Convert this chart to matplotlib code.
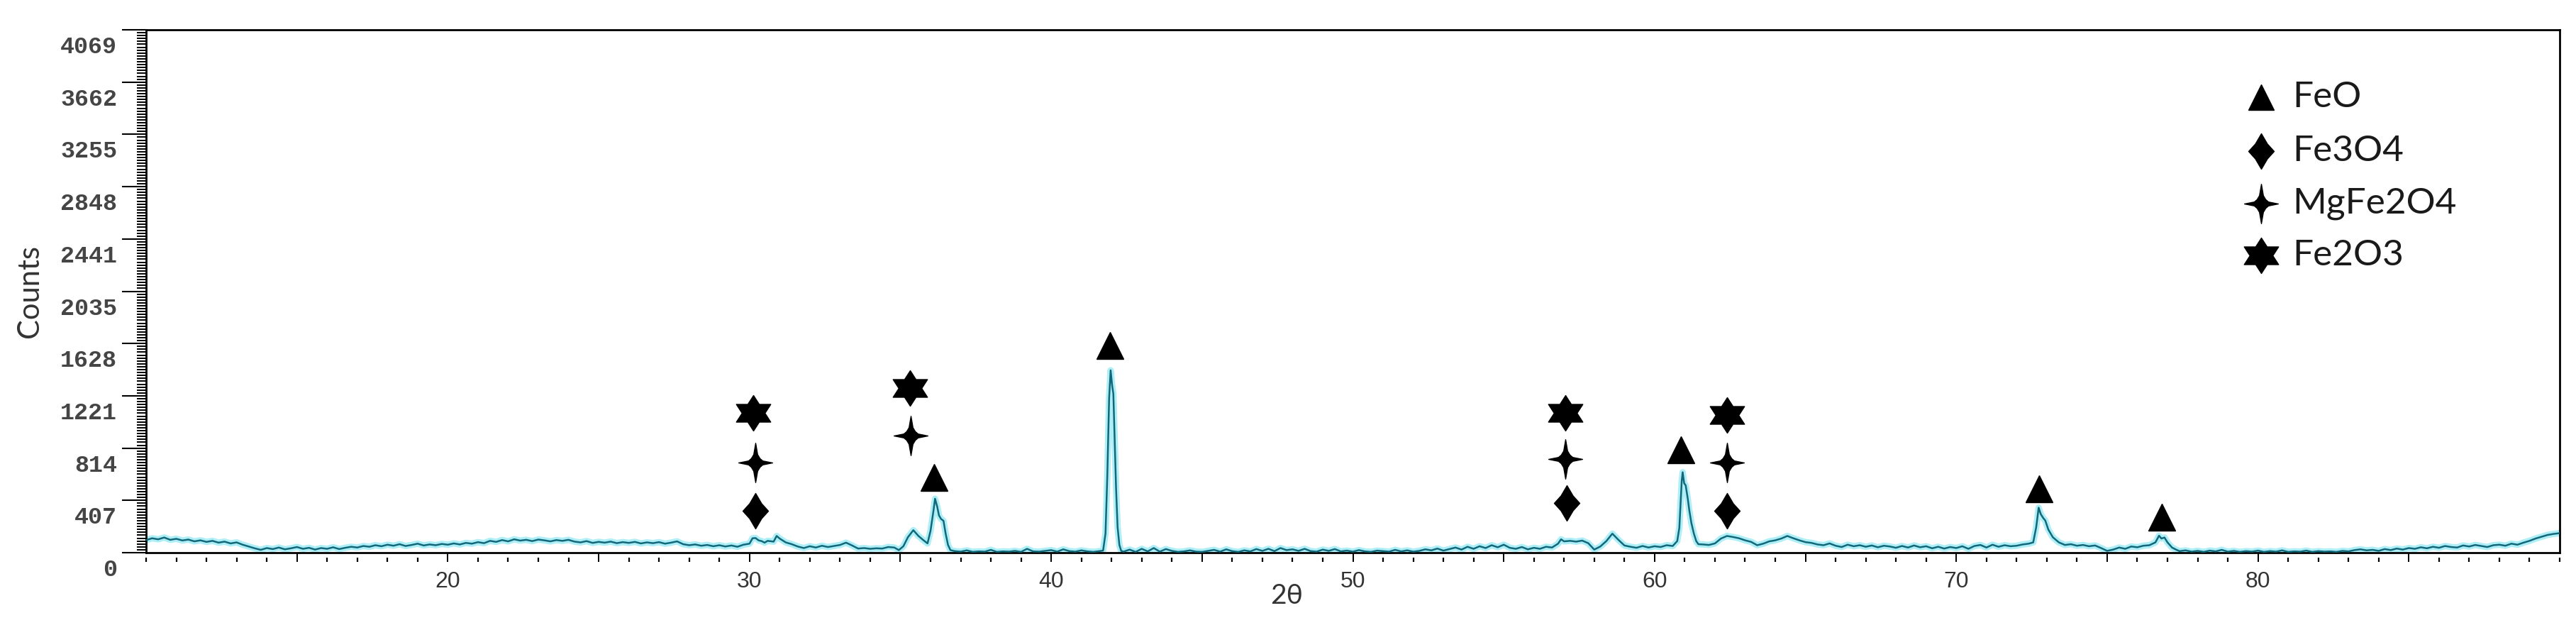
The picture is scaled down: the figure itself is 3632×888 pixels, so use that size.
import matplotlib
matplotlib.use("Agg")
import matplotlib.pyplot as plt
import numpy as np
from matplotlib.path import Path
from matplotlib.lines import Line2D
from matplotlib.markers import MarkerStyle
from matplotlib.ticker import FixedLocator, MultipleLocator
from matplotlib.transforms import ScaledTranslation

# ---------------- data ----------------
two_theta = [
    10.0, 10.2, 10.4, 10.6, 10.8, 11.0, 11.2, 11.4, 11.6, 11.8, 12.0, 12.2, 12.4, 12.6, 12.8, 13.0, 13.2, 13.4,
    13.6, 13.8, 14.0, 14.2, 14.4, 14.6, 14.8, 15.0, 15.2, 15.4, 15.6, 15.8, 16.0, 16.2, 16.4, 16.6, 16.8,
    17.0, 17.2, 17.4, 17.6, 17.8, 18.0, 18.2, 18.4, 18.6, 18.8, 19.0, 19.2, 19.4, 19.6, 19.8, 20.0, 20.2, 20.4,
    20.6, 20.8, 21.0, 21.2,
    21.4, 21.6, 21.8, 22.0, 22.2, 22.4, 22.6, 22.8, 23.0, 23.2, 23.4, 23.6, 23.8, 24.0, 24.2,
    24.4, 24.6, 24.8, 25.0, 25.2, 25.4, 25.6, 25.8, 26.0, 26.2, 26.4, 26.6, 26.8, 27.0, 27.2, 27.4, 27.6,
    27.8, 28.0, 28.2, 28.4, 28.6, 28.8, 29.0, 29.2, 29.4, 29.6, 29.8,
    30.0, 30.1, 30.2, 30.3, 30.4, 30.5, 30.6, 30.8, 30.9, 31.0, 31.2, 31.4,
    31.6, 31.8, 32.0, 32.2, 32.4, 32.6, 32.8, 33.0, 33.2, 33.4, 33.6, 33.8, 34.0, 34.2, 34.4, 34.6, 34.8, 34.95,
    35.1, 35.25, 35.43, 35.6, 35.75, 35.9, 36.0, 36.1, 36.15, 36.22, 36.28, 36.35, 36.43, 36.5, 36.58, 36.66,
    36.8, 37.0, 37.2, 37.4, 37.6, 37.8, 38.0, 38.2, 38.4, 38.6, 38.8, 39.0, 39.2, 39.4, 39.6, 39.8, 40.0, 40.2,
    40.4, 40.6, 40.8, 41.0, 41.2, 41.4, 41.6,
    41.72, 41.8, 41.86, 41.92, 41.97, 42.02, 42.06, 42.1, 42.15, 42.2, 42.26, 42.32,
    42.4, 42.6, 42.8, 43.0, 43.2, 43.4, 43.6, 43.8, 44.0, 44.2, 44.4, 44.6, 44.8, 45.0, 45.2, 45.4, 45.6, 45.8,
    46.0, 46.2, 46.4, 46.6, 46.8, 47.0, 47.2, 47.4, 47.6, 47.8, 48.0, 48.2, 48.4, 48.6, 48.8, 49.0, 49.2, 49.4,
    49.6, 49.8, 50.0, 50.2, 50.4, 50.6, 50.8, 51.0, 51.2, 51.4, 51.6, 51.8, 52.0, 52.2, 52.4, 52.6, 52.8, 53.0,
    53.2, 53.4, 53.6, 53.8, 54.0, 54.2, 54.4, 54.6, 54.8, 55.0, 55.2, 55.4, 55.6, 55.8, 56.0, 56.2, 56.4, 56.6,
    56.8, 56.9, 57.0, 57.2, 57.4, 57.6, 57.8, 58.0, 58.2, 58.4, 58.6, 58.8, 59.0,
    59.2, 59.4, 59.6, 59.8, 60.0, 60.2, 60.4, 60.6, 60.75,
    60.82, 60.9, 60.93, 60.98, 61.03, 61.1, 61.15, 61.22, 61.3, 61.38, 61.45,
    61.6, 61.8, 62.0, 62.2, 62.4, 62.6, 62.8, 63.0, 63.2, 63.4, 63.6, 63.8, 64.0, 64.2, 64.4, 64.6, 64.8, 65.0, 65.2,
    65.4, 65.6, 65.8, 66.0, 66.2, 66.4, 66.6, 66.8, 67.0, 67.2, 67.4, 67.6, 67.8, 68.0, 68.2, 68.4, 68.6, 68.8,
    69.0, 69.2, 69.4, 69.6, 69.8, 70.0, 70.2, 70.4, 70.6, 70.8, 71.0, 71.2, 71.4, 71.6, 71.8, 72.0, 72.2, 72.4,
    72.55, 72.65, 72.73, 72.8, 72.88, 72.95, 73.05, 73.2, 73.4, 73.6,
    73.8, 74.0, 74.2, 74.4, 74.6, 74.8, 75.0, 75.2, 75.4, 75.6, 75.8, 76.0, 76.2, 76.4, 76.6, 76.72, 76.8, 76.9,
    77.0, 77.15, 77.3,
    77.4, 77.6, 77.8, 78.0, 78.2, 78.4, 78.6, 78.8, 79.0, 79.2, 79.4, 79.6, 79.8, 80.0, 80.2, 80.4, 80.6, 80.8,
    81.0, 81.2, 81.4, 81.6, 81.8, 82.0, 82.2, 82.4, 82.6, 82.8, 83.0, 83.2, 83.4, 83.6, 83.8, 84.0, 84.2, 84.4, 84.6,
    84.8, 85.0, 85.2, 85.4, 85.6, 85.8, 86.0, 86.2, 86.4, 86.6, 86.8, 87.0, 87.2, 87.4, 87.6, 87.8, 88.0, 88.2,
    88.4, 88.6, 88.8, 89.0, 89.2, 89.4, 89.6, 89.8, 90.0,
]
counts = [
    98, 112, 104, 118, 100, 108, 95, 102, 88, 96, 84, 92, 78, 86, 72, 80, 62, 48,
    34, 22, 36, 28, 40, 26, 34, 44, 30, 38, 24, 36, 30, 42, 28, 38, 46,
    40, 52, 46, 58, 50, 62, 54, 66, 52, 60, 70, 56, 64, 58, 68, 62, 72, 64,
    76, 70, 82, 74,
    92, 84, 98, 88, 104, 94, 100, 90, 102, 96, 88, 98, 92, 100, 86,
    80, 90, 76, 84, 78, 86, 74, 82, 76, 84, 72, 80, 74, 82, 70, 78, 88,
    66, 58, 64, 54, 60, 50, 58, 48, 56, 46, 62,
    70, 112, 114, 96, 90, 78, 92, 86, 130, 110, 80, 66,
    48, 36, 50, 40, 54, 44, 52, 60, 78, 56, 32, 36, 30, 34, 32, 44, 40, 20,
    50, 120, 175, 130, 100, 72, 170, 330, 420, 360, 290, 262, 248, 150, 60, 20,
    12, 8, 18, 6, 10, 8, 22, 6, 10, 8, 14, 6, 30, 10, 8, 14, 20, 8,
    26, 12, 8, 18, 10, 6, 12,
    16, 150, 600, 1200, 1419, 1300, 1237, 900, 500, 200, 60, 14,
    8, 24, 6, 30, 10, 36, 8, 28, 14, 6, 10, 18, 8, 6, 14, 22, 8, 26,
    12, 6, 18, 10, 28, 14, 30, 12, 36, 20, 26, 14, 30, 12, 8, 24, 14, 28,
    10, 16, 8, 20, 10, 6, 16, 12, 8, 22, 10, 18, 8, 14, 26, 18, 32, 16,
    28, 40, 24, 46, 30, 50, 36, 58, 42, 62, 38, 30, 44, 26, 38, 30, 46, 40,
    70, 104, 88, 92, 86, 94, 74, 24, 48, 90, 148, 100, 56,
    46, 38, 52, 40, 50, 44, 58, 52, 90,
    193, 560, 626, 540, 524, 420, 330, 230, 150, 90, 66,
    64, 60, 72, 110, 130, 122, 112, 96, 84, 58, 70, 88, 96, 110, 130, 112, 96, 82, 76,
    64, 58, 72, 54, 44, 62, 50, 58, 46, 56, 42, 54, 48, 38, 52, 40, 56, 42,
    50, 34, 46, 32, 44, 36, 50, 30, 52, 60, 40, 62, 46, 58, 50, 54, 64, 70,
    80, 200, 350, 300, 270, 250, 180, 120, 80, 60,
    66, 54, 60, 50, 56, 36, 14, 24, 40, 30, 48, 42, 54, 58, 80, 132, 110, 118,
    80, 40, 22,
    12, 18, 8, 14, 6, 16, 10, 22, 8, 14, 6, 12, 8, 16, 6, 12, 8, 18,
    6, 10, 8, 16, 6, 12, 8, 10, 6, 14, 10, 20, 26, 18, 22, 14, 28, 20, 32,
    24, 36, 30, 42, 34, 46, 38, 52, 44, 40, 56, 48, 60, 52, 44, 58, 62, 54,
    70, 62, 78, 92, 110, 124, 138, 146, 152,
]

# phase annotation positions (2theta, counts)
feo_theta = [36.12, 41.95, 60.87, 72.74, 76.81]
feo_counts = [585, 1612, 800, 497, 276]
fe3o4_theta = [30.19, 57.09, 62.40]
fe3o4_counts = [326, 386, 326]
mgfe2o4_theta = [30.19, 35.34, 57.05, 62.40]
mgfe2o4_counts = [701, 911, 729, 701]
fe2o3_theta = [30.13, 35.33, 57.04, 62.41]
fe2o3_counts = [1088, 1281, 1088, 1071]

phase_labels = ["FeO", "Fe3O4", "MgFe2O4", "Fe2O3"]
ytick_labels = ["0", "407", "814", "1221", "1628", "2035", "2441", "2848", "3255", "3662", "4069"]
y_max = 4069.0

# ---------------- custom marker shapes ----------------
def closed(verts):
    verts = list(verts) + [verts[0]]
    codes = [Path.MOVETO] + [Path.LINETO] * (len(verts) - 2) + [Path.CLOSEPOLY]
    return Path(verts, codes)

diamond_path = closed([(0, 1), (0.34, 0.42), (0.72, 0), (0.34, -0.42),
                       (0, -1), (-0.34, -0.42), (-0.72, 0), (-0.34, 0.42)])
s4 = 0.86
star4_path = closed([(0, 1), (0.10, 0.42), (0.22, 0.22), (0.42 * s4, 0.10), (s4, 0),
                     (0.42 * s4, -0.10), (0.22, -0.22), (0.10, -0.42), (0, -1),
                     (-0.10, -0.42), (-0.22, -0.22), (-0.42 * s4, -0.10), (-s4, 0),
                     (-0.42 * s4, 0.10), (-0.22, 0.22), (-0.10, 0.42)])
hv = []
for k in range(12):
    ang = np.pi / 2 + k * np.pi / 6
    r = 1.0 if k % 2 == 0 else 0.577
    hv.append((1.12 * r * np.cos(ang), r * np.sin(ang)))
hexagram_path = closed(hv)

# detached short tick dash (drawn below the axis with a small gap)
dash_path = Path([(0, -0.5), (0, -1.0)], [Path.MOVETO, Path.LINETO])

# ---------------- figure ----------------
W, H, DPI = 3632, 888, 100
fig = plt.figure(figsize=(W / DPI, H / DPI), dpi=DPI, facecolor="white")
L, R, T, B = 206, 3609, 42, 779
ax = fig.add_axes([L / W, 1 - B / H, (R - L) / W, (B - T) / H])

ax.plot(two_theta, counts, color="#79e3f0", lw=6.5, alpha=0.6, zorder=2)
ax.plot(two_theta, counts, color="#11687a", lw=1.8, zorder=3)

mk = dict(linestyle="None", color="black", zorder=5, clip_on=False)
ax.plot(feo_theta, feo_counts, marker="^", markersize=27, **mk)
ax.plot(fe3o4_theta, fe3o4_counts, marker=diamond_path, markersize=36, **mk)
ax.plot(mgfe2o4_theta, mgfe2o4_counts, marker=star4_path, markersize=40, **mk)
ax.plot(fe2o3_theta, fe2o3_counts, marker=hexagram_path, markersize=36, **mk)

ax.set_xlim(10, 90)
ax.set_ylim(0, y_max)

for s in ax.spines.values():
    s.set_linewidth(2.0)
    s.set_color("black")

# y ticks
yt = [i * y_max / 10 for i in range(11)]
ax.yaxis.set_major_locator(FixedLocator(yt))
ax.set_yticklabels(ytick_labels)
ax.yaxis.set_minor_locator(MultipleLocator(y_max / 10 / 18))
ax.tick_params(axis="y", which="major", direction="out", length=24.5, width=1.5, pad=5,
               labelsize=24, labelcolor="#454545")
ax.tick_params(axis="y", which="minor", direction="out", length=9.5, width=1.4)
for lab in ax.get_yticklabels():
    lab.set_fontfamily("Liberation Mono")
    lab.set_fontweight("bold")
    lab.set_transform(lab.get_transform() + ScaledTranslation(0, -21 / DPI, fig.dpi_scale_trans))

# x ticks
xt_major = [15, 20, 25, 30, 35, 40, 45, 50, 55, 60, 65, 70, 75, 80, 85]
ax.set_xticks(xt_major)
ax.set_xticklabels(["" if v % 10 else str(v) for v in xt_major])
ax.xaxis.set_minor_locator(MultipleLocator(1))
ax.tick_params(axis="x", which="major", direction="out", length=9.5, width=1.4, pad=9,
               labelsize=23, labelcolor="#333333")
ax.tick_params(axis="x", which="minor", direction="out", length=19, width=1.6)
for lab in ax.get_xticklabels():
    lab.set_fontfamily("Liberation Sans")
for t in ax.xaxis.get_minor_ticks():
    t.tick1line.set_marker(MarkerStyle(dash_path))

ax.tick_params(top=False, right=False)

# axis titles
fig.text(42 / W, 1 - 410 / H, "Counts", rotation=90, ha="center", va="center",
         fontsize=30, family="Lato", color="#333333")
fig.text(1814 / W, 1 - 840 / H, "2θ", ha="center", va="center",
         fontsize=28, family="Lato", color="#333333")

# legend (manual)
leg_x, txt_x = 3188 / W, 3232 / W
leg_rows = [137, 213, 287, 360]
leg_markers = [("^", 26), (diamond_path, 36), (star4_path, 40), (hexagram_path, 36)]
for (m, ms), yy, lab in zip(leg_markers, leg_rows, phase_labels):
    fig.add_artist(Line2D([leg_x], [1 - yy / H], marker=m, markersize=ms, color="black",
                          linestyle="None", transform=fig.transFigure))
    fig.text(txt_x, 1 - yy / H, lab, ha="left", va="center", fontsize=37,
             family="Lato", color="#1a1a1a")

fig.savefig("out.png", dpi=DPI, facecolor="white")
